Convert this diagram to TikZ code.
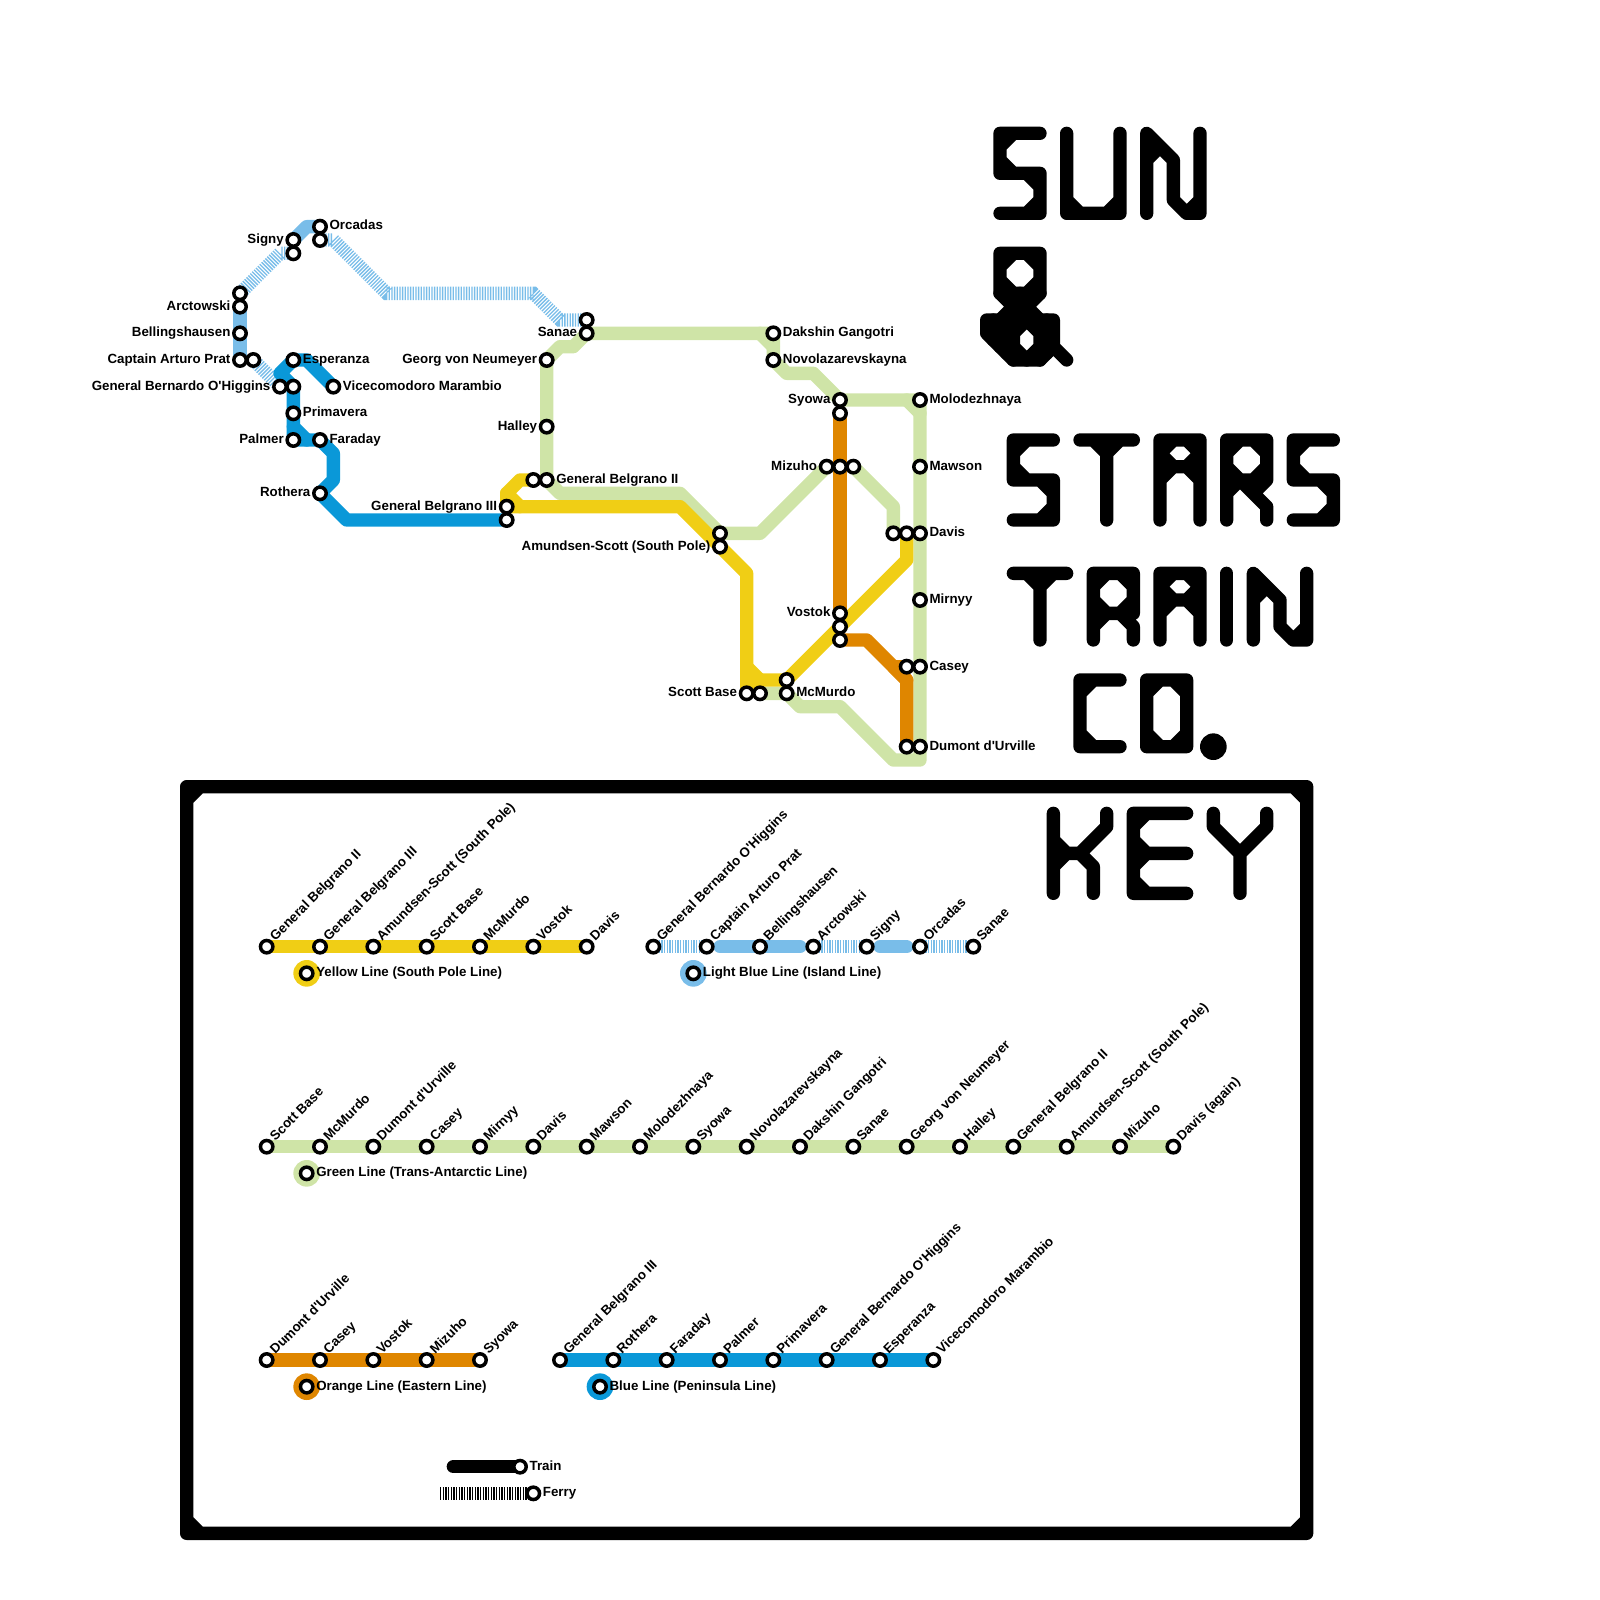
\documentclass[tikz,border=0pt]{standalone}
\usepackage{fontspec}
\setmainfont{Liberation Sans}[Ligatures=TeXOff]
\usetikzlibrary{calc}
\pgfdeclarelayer{lines}
\pgfsetlayers{lines,main}
\definecolor{cyellow}{HTML}{F0CE15}
\definecolor{clight}{HTML}{79BDE9}
\definecolor{cblue}{HTML}{0A98D8}
\definecolor{cgreen}{HTML}{CFE4A7}
\definecolor{corange}{HTML}{DF8600}
\tikzset{
  x=6.66667pt,y=-6.66667pt,
  trainline/.style={line width=6.66667pt,line cap=round,line join=round},
  ferryline/.style={line width=6.66667pt,line cap=butt,line join=miter,dash pattern=on 0.6667pt off 0.6667pt},
  glyph/.style={draw=black,line width=6.66667pt,line cap=round,line join=round},
  station/.style={circle,draw=black,fill=white,line width=1.75pt,minimum size=6.2pt,inner sep=0pt,outer sep=0pt},
  lab/.style={font=\bfseries\fontsize{6.66pt}{7.2pt}\selectfont,inner sep=0pt,outer sep=0pt,text=black},
  swatch/.style={circle,minimum size=13.3333pt,inner sep=0pt,outer sep=0pt},
}
\newcommand{\st}[3]{\node[station] (#1) at (#2,#3) {};}
\newcommand{\labR}[2]{\node[lab,anchor=base west] (t#1) at ($(#1)+(0.72,0.25)$) {#2};}
\newcommand{\labL}[2]{\node[lab,anchor=base east] (t#1) at ($(#1)+(-0.72,0.25)$) {#2};}
\newcommand{\ky}[4]{\node[station] (#1) at (#2,#3) {};\node[lab,anchor=base west,rotate=45] (t#1) at ($(#1)+(0.66,-0.4)$) {#4};}
% lettering
\newcommand{\gS}[2]{\begin{scope}[shift={(#1,#2)}]
  \draw[glyph] (3,0)--(0,0)--(0,3)--(3,3)--(3,6)--(0,6) (0,1)--(1,0) (0,2)--(1,3) (2,3)--(3,4) (3,5)--(2,6);
\end{scope}}
\newcommand{\gA}[3]{\begin{scope}[shift={(#1,#2)}]
  \draw[glyph] (0,#3)--(0,0)--(3,0)--(3,#3) (0,2)--(3,2) (0,1)--(1,0) (2,0)--(3,1) (0,1)--(1,2) (2,2)--(3,1) (0,3)--(1,2) (2,2)--(3,3);
\end{scope}}
\newcommand{\gN}[3]{\begin{scope}[shift={(#1,#2)}]
  \draw[glyph] (0,#3)--(0,0)--(2,2)--(2,#3-1)--(3,#3)--(4,#3)--(4,0) (0,2)--(1,1)--(2,2) (2,#3-1)--(3,#3)--(4,#3-1);
\end{scope}}
\begin{document}
\begin{tikzpicture}
\useasboundingbox (0,0) rectangle (120,120);
% ---------- stations of the map
\st{orcA}{24}{17}\st{orcB}{24}{18}\st{sigA}{22}{18}\st{sigB}{22}{19}
\st{arcA}{18}{22}\st{arcB}{18}{23}\st{bel}{18}{25}\st{capA}{18}{27}\st{capB}{19}{27}
\st{esp}{22}{27}\st{ohiA}{21}{29}\st{ohiB}{22}{29}\st{vic}{25}{29}\st{pri}{22}{31}
\st{pal}{22}{33}\st{far}{24}{33}\st{rot}{24}{37}\st{gbtA}{38}{38}\st{gbtB}{38}{39}
\st{gbdA}{40}{36}\st{gbdB}{41}{36}\st{hal}{41}{32}\st{geo}{41}{27}\st{sanA}{44}{24}\st{sanB}{44}{25}
\st{dak}{58}{25}\st{nov}{58}{27}\st{syoA}{63}{30}\st{syoB}{63}{31}\st{mol}{69}{30}\st{maw}{69}{35}
\st{mizA}{62}{35}\st{mizB}{63}{35}\st{mizC}{64}{35}
\st{davA}{67}{40}\st{davB}{68}{40}\st{davC}{69}{40}\st{mir}{69}{45}
\st{casA}{68}{50}\st{casB}{69}{50}\st{dumA}{68}{56}\st{dumB}{69}{56}
\st{vosA}{63}{46}\st{vosB}{63}{47}\st{vosC}{63}{48}
\st{mcmA}{59}{51}\st{mcmB}{59}{52}\st{scoA}{56}{52}\st{scoB}{57}{52}
\st{amuA}{54}{40}\st{amuB}{54}{41}
% ---------- labels of the map
\labR{orcA}{Orcadas}\labL{sigA}{Signy}\labL{arcB}{Arctowski}\labL{bel}{Bellingshausen}\labL{capA}{Captain Arturo Prat}
\labR{esp}{Esperanza}\labL{ohiA}{General Bernardo O'Higgins}\labR{vic}{Vicecomodoro Marambio}\labR{pri}{Primavera}
\labL{pal}{Palmer}\labR{far}{Faraday}\labL{rot}{Rothera}\labL{gbtA}{General Belgrano III}\labR{gbdB}{General Belgrano II}
\labL{hal}{Halley}\labL{geo}{Georg von Neumeyer}\labL{sanB}{Sanae}\labR{dak}{Dakshin Gangotri}\labR{nov}{Novolazarevskayna}
\labL{syoA}{Syowa}\labR{mol}{Molodezhnaya}\labR{maw}{Mawson}\labL{mizA}{Mizuho}\labR{davC}{Davis}\labR{mir}{Mirnyy}
\labR{casB}{Casey}\labR{dumB}{Dumont d'Urville}\labL{vosA}{Vostok}\labR{mcmB}{McMurdo}\labL{scoA}{Scott Base}\labL{amuB}{Amundsen-Scott (South Pole)}
% ---------- title lettering
\gS{75}{10}
\draw[glyph] (80,10)--(80,16)--(84,16)--(84,10) (80,15)--(81,16) (83,16)--(84,15);
\gN{86}{10}{6}
% ampersand
\draw[glyph] (75,19)--(78,19)--(78,22)--(75,22)--cycle (75,20)--(76,19) (77,19)--(78,20) (78,21)--(77,22) (76,22)--(75,21);
\draw[glyph] (75,22)--(76,23)--(75,24) (78,22)--(77,23)--(78,24) (76,23)--(77,23) (76,22)--(76,24) (76.5,22)--(76.5,24) (77,22)--(77,24);
\draw[glyph] (74,24)--(74,25)--(76,27)--(78,27)--(79,26)--(79,24)--cycle (79,26)--(80,27);
\draw[glyph] (74.5,24)--(74.5,25.5) (75,24)--(75,26) (75.5,24)--(75.5,26.5) (76,24)--(76,27) (78,24)--(78,27) (78.5,24)--(78.5,26.5) (76,25)--(77,24)--(78,25) (76,26)--(77,27)--(78,26);
% STARS
\gS{76}{33}
\draw[glyph] (81,33)--(85,33) (83,33)--(83,39) (82,33)--(83,34)--(84,33);
\gA{87}{33}{6}
\draw[glyph] (92,39)--(92,33)--(95,33)--(95,36)--(92,36) (92,34)--(93,33) (94,33)--(95,34) (95,35)--(94,36) (93,36)--(92,35)
  (92,37)--(93,36)--(95,38)--(95,39) (95,36)--(94,37);
\gS{97}{33}
% TRAIN
\draw[glyph] (76,43)--(80,43) (78,43)--(78,48) (77,43)--(78,44)--(79,43);
\draw[glyph] (82,48)--(82,43)--(85,43)--(85,46)--(82,46) (82,44)--(83,43) (84,43)--(85,44) (85,45)--(84,46) (83,46)--(82,45)
  (82,47)--(83,46) (85,45)--(84,46)--(85,47)--(85,48);
\gA{87}{43}{5}
\draw[glyph] (92,43)--(92,48);
\gN{94}{43}{5}
% CO.
\draw[glyph] (84,51)--(81,51)--(81,56)--(84,56) (81,52)--(82,51) (81,55)--(82,56);
\draw[glyph] (86,51)--(89,51)--(89,56)--(86,56)--cycle (86,52)--(87,51) (88,51)--(89,52) (89,55)--(88,56) (87,56)--(86,55);
\fill[black] (91,56) circle[radius=6.66667pt];
% ---------- key frame
\draw[glyph] (14,59)--(98,59)--(98,115)--(14,115)--cycle (14,60)--(15,59) (97,59)--(98,60) (98,114)--(97,115) (15,115)--(14,114);
% KEY
\draw[glyph] (79,61)--(79,67) (79,64)--(81,64)--(83,62)--(83,61) (81,64)--(82,65)--(82,67) (79,63)--(80,64)--(79,65);
\draw[glyph] (89,61)--(85,61)--(85,67)--(89,67) (85,64)--(89,64) (85,62)--(86,61) (85,63)--(86,64)--(85,65) (85,66)--(86,67);
\draw[glyph] (91,61)--(91,62)--(93,64)--(95,62)--(95,61) (93,64)--(93,67);
% yellow key
\ky{ya1}{20}{71}{General Belgrano II}\ky{ya2}{24}{71}{General Belgrano III}\ky{ya3}{28}{71}{Amundsen-Scott (South Pole)}\ky{ya4}{32}{71}{Scott Base}\ky{ya5}{36}{71}{McMurdo}\ky{ya6}{40}{71}{Vostok}\ky{ya7}{44}{71}{Davis}
% light blue key
\ky{lb1}{49}{71}{General Bernardo O'Higgins}\ky{lb2}{53}{71}{Captain Arturo Prat}\ky{lb3}{57}{71}{Bellingshausen}\ky{lb4}{61}{71}{Arctowski}\ky{lb5}{65}{71}{Signy}\ky{lb6}{69}{71}{Orcadas}\ky{lb7}{73}{71}{Sanae}
% green key
\ky{gr1}{20}{86}{Scott Base}\ky{gr2}{24}{86}{McMurdo}\ky{gr3}{28}{86}{Dumont d'Urville}\ky{gr4}{32}{86}{Casey}\ky{gr5}{36}{86}{Mirnyy}\ky{gr6}{40}{86}{Davis}\ky{gr7}{44}{86}{Mawson}\ky{gr8}{48}{86}{Molodezhnaya}\ky{gr9}{52}{86}{Syowa}\ky{gr10}{56}{86}{Novolazarevskayna}\ky{gr11}{60}{86}{Dakshin Gangotri}\ky{gr12}{64}{86}{Sanae}\ky{gr13}{68}{86}{Georg von Neumeyer}\ky{gr14}{72}{86}{Halley}\ky{gr15}{76}{86}{General Belgrano II}\ky{gr16}{80}{86}{Amundsen-Scott (South Pole)}\ky{gr17}{84}{86}{Mizuho}\ky{gr18}{88}{86}{Davis (again)}
% orange key
\ky{or1}{20}{102}{Dumont d'Urville}\ky{or2}{24}{102}{Casey}\ky{or3}{28}{102}{Vostok}\ky{or4}{32}{102}{Mizuho}\ky{or5}{36}{102}{Syowa}
% blue key
\ky{bl1}{42}{102}{General Belgrano III}\ky{bl2}{46}{102}{Rothera}\ky{bl3}{50}{102}{Faraday}\ky{bl4}{54}{102}{Palmer}\ky{bl5}{58}{102}{Primavera}\ky{bl6}{62}{102}{General Bernardo O'Higgins}\ky{bl7}{66}{102}{Esperanza}\ky{bl8}{70}{102}{Vicecomodoro Marambio}
% swatches
\node[swatch,fill=cyellow] (sw1) at (23,73) {};\st{sy}{23}{73}\labR{sy}{Yellow Line (South Pole Line)}
\node[swatch,fill=clight] (sw2) at (52,73) {};\st{sl}{52}{73}\labR{sl}{Light Blue Line (Island Line)}
\node[swatch,fill=cgreen] (sw3) at (23,88) {};\st{sg}{23}{88}\labR{sg}{Green Line (Trans-Antarctic Line)}
\node[swatch,fill=corange] (sw4) at (23,104) {};\st{so}{23}{104}\labR{so}{Orange Line (Eastern Line)}
\node[swatch,fill=cblue] (sw5) at (45,104) {};\st{sb}{45}{104}\labR{sb}{Blue Line (Peninsula Line)}
% train / ferry legend
\coordinate (trs) at (34,110);\coordinate (fes) at (33,112);
\st{tre}{39}{110}\st{fee}{40}{112}
\labR{tre}{Train}\labR{fee}{Ferry}
% ---------- lines, beneath every station
\begin{pgfonlayer}{lines}
\draw[trainline,cgreen] (scoB.center)--(mcmB.center)--(60,53)--(63,53)--(67,57)--(69,57)--(mol.center)--(syoA.center)--(61,28)--(59,28)--(nov.center)--(dak.center)--(sanB.center)--(43,26)--(42,26)--(geo.center)--(gbdB.center)--(42,37)--(51,37)--(amuA.center)--(57,40)--(mizA.center);
\draw[trainline,cgreen] (68,30)--(69,31) (57,25)--(58,26) (mizC.center)--(67,38)--(davA.center);
\draw[trainline,clight] (sigA.center)--(23,17)--(orcA.center);
\draw[trainline,clight] (arcB.center)--(capA.center);
\draw[ferryline,clight] (orcB.center)--(25,18)--(29,22)--(40,22)--(42,24)--(sanA.center);
\draw[ferryline,clight] (sigB.center)--(21,19)--(arcA.center);
\draw[ferryline,clight] (capB.center)--(ohiA.center);
\draw[trainline,cblue] (vic.center)--(23,27)--(esp.center)--(21,28)--(ohiB.center)--(pal.center)--(far.center)--(25,34)--(25,36)--(rot.center)--(26,39)--(gbtB.center);
\draw[trainline,cblue] (22,32)--(23,33);
\draw[trainline,corange] (syoB.center)--(vosA.center);
\draw[trainline,corange] (vosC.center)--(65,48)--(68,51)--(dumA.center);
\draw[trainline,corange] (casA.center)--(67,50)--(68,51);
\draw[trainline,cyellow] (gbdA.center)--(39,36)--(38,37)--(gbtA.center);
\draw[trainline,cyellow] (38,37)--(39,38);
\draw[trainline,cyellow] (gbtA.center)--(51,38)--(amuB.center)--(56,43)--(scoA.center)--(57,51)--(mcmA.center)--(68,42)--(davB.center);
\draw[trainline,cyellow] (56,50)--(57,51);
% key lines
\draw[trainline,cyellow,line cap=butt] (ya1.center)--(ya7.center);
\coordinate (lc) at (54,71);\coordinate (ld) at (60,71);\coordinate (lg) at (66,71);\coordinate (lh) at (68,71);
\draw[ferryline,clight] (lb1.center)--(lb2.center) (lb4.center)--(lb5.center) (lb6.center)--(lb7.center);
\draw[trainline,clight] (lc)--(ld) (lg)--(lh);
\draw[trainline,cgreen,line cap=butt] (gr1.center)--(gr18.center);
\draw[trainline,corange,line cap=butt] (or1.center)--(or5.center);
\draw[trainline,cblue,line cap=butt] (bl1.center)--(bl8.center);
\draw[trainline,black] (trs)--(tre.center);
\draw[ferryline,black] (fes)--(fee.center);
\end{pgfonlayer}
\end{tikzpicture}
\end{document}
